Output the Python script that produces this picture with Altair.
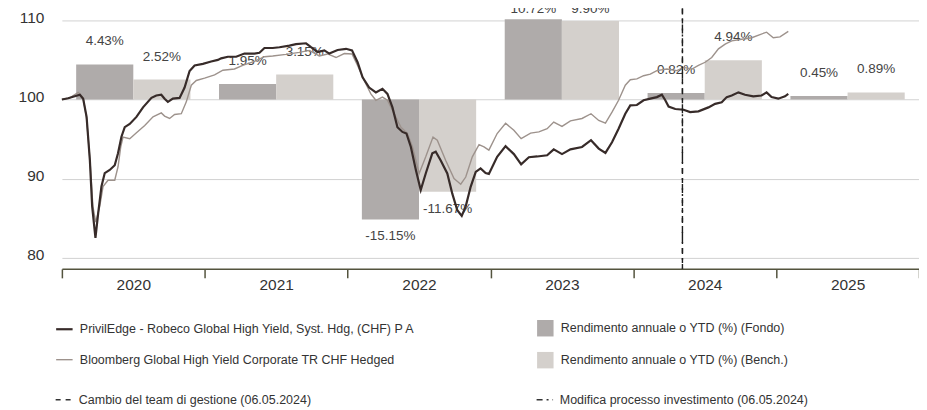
import altair as alt
import pandas as pd

# ---------------- data ----------------
anni = [2020, 2021, 2022, 2023, 2024, 2025]
rend_fondo = [4.43, 1.95, -15.15, 10.72, 0.82, 0.45]
rend_bench = [2.52, 3.15, -11.67, 9.90, 4.94, 0.89]

fondo_t = [2020.000, 2020.044, 2020.126, 2020.149, 2020.173, 2020.196, 2020.212, 2020.235, 2020.254, 2020.277,
           2020.300, 2020.335, 2020.370, 2020.393, 2020.417, 2020.440, 2020.475, 2020.522, 2020.568, 2020.627,
           2020.661, 2020.696, 2020.719, 2020.742, 2020.777, 2020.824, 2020.859, 2020.894, 2020.929, 2020.987,
           2021.045, 2021.092, 2021.115, 2021.162, 2021.220, 2021.278, 2021.348, 2021.383, 2021.418, 2021.476,
           2021.523, 2021.593, 2021.639, 2021.709, 2021.744, 2021.790, 2021.837, 2021.872, 2021.930, 2021.989,
           2022.031, 2022.070, 2022.105, 2022.151, 2022.198, 2022.244, 2022.279, 2022.314, 2022.349, 2022.384,
           2022.412, 2022.443, 2022.478, 2022.512, 2022.547, 2022.593, 2022.617, 2022.652, 2022.698, 2022.733,
           2022.768, 2022.799, 2022.827, 2022.862, 2022.897, 2022.931, 2022.966, 2022.989, 2023.047, 2023.106,
           2023.164, 2023.215, 2023.269, 2023.327, 2023.397, 2023.443, 2023.501, 2023.560, 2023.641, 2023.704,
           2023.758, 2023.805, 2023.851, 2023.897, 2023.944, 2023.979, 2024.025, 2024.072, 2024.119, 2024.165,
           2024.200, 2024.224, 2024.247, 2024.294, 2024.352, 2024.398, 2024.456, 2024.526, 2024.573, 2024.619,
           2024.654, 2024.689, 2024.736, 2024.782, 2024.840, 2024.898, 2024.933, 2024.968, 2025.015, 2025.062,
           2025.085]
fondo_v = [100.0, 100.16, 100.6, 100.1, 97.8, 92.3, 86.5, 82.5, 85.6, 89.0,
           90.7, 91.1, 91.7, 93.2, 95.3, 96.5, 96.9, 97.8, 99.0, 100.2,
           100.5, 100.6, 100.1, 99.7, 100.1, 100.2, 101.5, 103.6, 104.3, 104.5,
           104.8, 105.0, 105.2, 105.4, 105.4, 105.8, 105.8, 105.9, 106.5, 106.5,
           106.6, 106.8, 107.0, 107.1, 106.6, 106.0, 106.2, 105.8, 106.25, 106.4,
           106.2, 104.7, 102.8, 101.5, 100.9, 101.35, 100.7, 99.0, 96.5, 95.9,
           95.7, 94.0, 91.1, 88.55, 90.65, 93.2, 93.4, 92.3, 90.65, 88.1,
           86.0, 85.3, 86.5, 89.0, 90.85, 91.3, 90.7, 90.6, 92.75, 94.1,
           93.1, 91.8, 92.7, 92.8, 92.95, 93.7, 93.1, 93.7, 94.0, 94.85,
           93.8, 93.25, 94.6, 96.3, 98.2, 99.25, 99.3, 99.9, 100.1, 100.3,
           100.6, 99.9, 99.1, 98.8, 98.7, 98.4, 98.5, 99.0, 99.45, 99.65,
           100.3, 100.5, 100.9, 100.6, 100.4, 100.5, 100.9, 100.3, 100.1, 100.4,
           100.7]

bench_t = [2020.000, 2020.056, 2020.114, 2020.149, 2020.173, 2020.196, 2020.217, 2020.237, 2020.265, 2020.288,
           2020.323, 2020.370, 2020.393, 2020.412, 2020.428, 2020.475, 2020.522, 2020.580, 2020.638, 2020.696,
           2020.719, 2020.754, 2020.789, 2020.836, 2020.871, 2020.906, 2020.941, 2020.999, 2021.069, 2021.127,
           2021.208, 2021.266, 2021.348, 2021.418, 2021.476, 2021.569, 2021.662, 2021.732, 2021.802, 2021.860,
           2021.919, 2021.977, 2022.031, 2022.070, 2022.116, 2022.163, 2022.198, 2022.244, 2022.279, 2022.326,
           2022.373, 2022.419, 2022.454, 2022.501, 2022.547, 2022.598, 2022.628, 2022.687, 2022.745, 2022.792,
           2022.827, 2022.873, 2022.920, 2022.955, 2022.989, 2023.047, 2023.106, 2023.164, 2023.215, 2023.281,
           2023.339, 2023.397, 2023.443, 2023.501, 2023.560, 2023.641, 2023.704, 2023.758, 2023.805, 2023.851,
           2023.897, 2023.944, 2023.979, 2024.025, 2024.072, 2024.119, 2024.165, 2024.235, 2024.305, 2024.352,
           2024.410, 2024.456, 2024.503, 2024.549, 2024.596, 2024.643, 2024.689, 2024.759, 2024.829, 2024.887,
           2024.933, 2024.980, 2025.027, 2025.085]
bench_v = [100.0, 100.2, 100.9, 100.2, 97.6, 92.5, 86.5, 84.5, 86.5, 89.0,
           89.8, 89.8, 91.5, 94.0, 95.25, 95.05, 95.8, 96.7, 97.8, 98.3,
           97.9, 97.6, 98.1, 98.2, 99.7, 101.8, 102.4, 102.7, 103.1, 103.7,
           103.85, 104.3, 104.8, 105.4, 105.5, 105.7, 105.95, 106.2, 105.5, 105.75,
           105.3, 105.8, 105.75, 104.3, 102.4, 100.7, 99.9, 100.3, 99.9, 98.2,
           96.5, 95.7, 94.0, 90.65, 92.75, 95.25, 94.85, 92.3, 90.0, 89.3,
           90.2, 92.75, 94.3, 94.0, 93.6, 95.7, 97.0, 96.1, 95.05, 95.75,
           95.9, 96.3, 97.15, 96.6, 97.3, 97.6, 98.2, 97.35, 97.0, 98.4,
           99.9, 101.8, 102.5, 102.6, 103.0, 103.2, 103.65, 103.85, 103.65, 104.05,
           103.85, 104.3, 104.7, 105.3, 106.4, 107.0, 107.4, 107.6, 107.8, 108.2,
           108.5, 107.8, 107.9, 108.6]

NOME_FONDO = "PrivilEdge - Robeco Global High Yield, Syst. Hdg, (CHF) P A"
NOME_BENCH = "Bloomberg Global High Yield Corporate TR CHF Hedged"
BAR_FONDO = "Rendimento annuale o YTD (%) (Fondo)"
BAR_BENCH = "Rendimento annuale o YTD (%) (Bench.)"
eventi = ["Cambio del team di gestione (06.05.2024)", "Modifica processo investimento (06.05.2024)"]
evento_t = [2024.344, 2024.344]  # 06.05.2024 as decimal year

# ---------------- tables ----------------
df_fondo = pd.DataFrame({"t": fondo_t, "v": fondo_v, "serie": NOME_FONDO})
df_bench = pd.DataFrame({"t": bench_t, "v": bench_v, "serie": NOME_BENCH})
df_bars = pd.concat([
    pd.DataFrame({"anno": anni, "r": rend_fondo, "serie": BAR_FONDO, "tipo": "Fondo"}),
    pd.DataFrame({"anno": anni, "r": rend_bench, "serie": BAR_BENCH, "tipo": "Bench"}),
])
df_ev = pd.DataFrame({"t": evento_t, "evento": eventi})

# ---------------- styles ----------------
FONT = "Liberation Sans, Arial, Helvetica, sans-serif"
C_FONDO = "#372b29"
C_BENCH = "#9d928c"
C_BFONDO = "#afabaa"
C_BBENCH = "#d4d0cc"
AXIS_C = "#54543e"
Y_MAX = 111.5
TOP_CLIP = 110.12
LABEL_GAP = 2.9   # label distance above a positive bar, in index points

xscale = alt.Scale(domain=[2020, 2026], nice=False, zero=False)
yscale = alt.Scale(domain=[78.6, Y_MAX], nice=False, zero=False)

xvals = []
for a in anni:
    xvals += [a, a + 0.5]
xvals.append(2026)

xaxis = alt.Axis(
    values=xvals, title=None, grid=False,
    labelExpr="datum.value % 1 == 0.5 ? format(floor(datum.value), 'd') : ''",
    tickOpacity={"condition": {"test": "datum.value % 1 != 0", "value": 0}, "value": 1},
    tickSize=9, tickWidth=1.5, tickColor=AXIS_C, domainColor=AXIS_C, domainWidth=1.5,
    labelFont=FONT, labelFontSize=15.5, labelColor="#333333", labelPadding=0,
    labelOverlap=False, labelFlush=False, labelBound=False,
)
yaxis = alt.Axis(
    values=[80, 90, 100, 110], title=None, grid=True, gridColor="#d2d2d2", gridWidth=1,
    domain=False, ticks=False, tickSize=0, labelPadding=18, labelOffset=-3,
    labelFont=FONT, labelFontSize=15.5, labelColor="#333333",
)

common_leg = dict(title=None, padding=0, symbolSize=272, labelLimit=700,
                  labelFont=FONT, labelFontSize=12.5, labelColor="#333333")

legend_lines = alt.Legend(orient="none", legendX=-7, legendY=312, rowPadding=15, columns=1,
                          symbolType="stroke", labelOffset=6, **common_leg)
legend_bars = alt.Legend(orient="none", legendX=476, legendY=312, rowPadding=15, columns=1,
                         symbolType="square", symbolStrokeWidth=0, labelOffset=7, **common_leg)
legend_ev = alt.Legend(orient="none", legendX=-7, legendY=383, columns=2, columnPadding=222,
                       symbolType="stroke", symbolStrokeColor="#333333", symbolStrokeWidth=1.5,
                       labelOffset=6, **common_leg)

line_color = alt.Scale(domain=[NOME_FONDO, NOME_BENCH], range=[C_FONDO, C_BENCH])
line_width = alt.Scale(domain=[NOME_FONDO, NOME_BENCH], range=[2.2, 1.4])
bar_fill = alt.Scale(domain=[BAR_FONDO, BAR_BENCH], range=[C_BFONDO, C_BBENCH])

# ---------------- layers ----------------
bars_base = alt.Chart(df_bars).transform_calculate(
    x0="datum.anno + (datum.tipo == 'Fondo' ? 0.1 : 0.5)",
    x1="datum.anno + (datum.tipo == 'Fondo' ? 0.5 : 0.9)",
    xm="datum.anno + (datum.tipo == 'Fondo' ? 0.3 : 0.7)",
    top=f"min(100 + datum.r, {TOP_CLIP})",
    ly=f"min(min(100 + datum.r, {TOP_CLIP}) + {LABEL_GAP}, {Y_MAX - 0.1})",
    label="(datum.r < 0 ? '-' : '') + format(abs(datum.r), '.2f') + '%'",
)

bars = bars_base.mark_bar().encode(
    x=alt.X("x0:Q", scale=xscale, axis=xaxis),
    x2="x1:Q",
    y=alt.Y("top:Q", scale=yscale, axis=yaxis),
    y2=alt.datum(100),
    fill=alt.Fill("serie:N", scale=bar_fill, legend=legend_bars),
)

lab_pos = bars_base.transform_filter("datum.r >= 0").mark_text(
    baseline="middle", align="center", font=FONT, fontSize=13.5, color="#444444"
).encode(x=alt.X("xm:Q", scale=xscale, axis=xaxis), y=alt.Y("ly:Q", scale=yscale, axis=yaxis), text="label:N")

lab_neg = bars_base.transform_filter("datum.r < 0").mark_text(
    dy=17, baseline="middle", align="center", font=FONT, fontSize=13.5, color="#444444"
).encode(x=alt.X("xm:Q", scale=xscale, axis=xaxis), y=alt.Y("top:Q", scale=yscale, axis=yaxis), text="label:N")


def line_layer(df):
    return alt.Chart(df).mark_line().encode(
        x=alt.X("t:Q", scale=xscale, axis=xaxis),
        y=alt.Y("v:Q", scale=yscale, axis=yaxis),
        color=alt.Color("serie:N", scale=line_color, legend=legend_lines),
        strokeWidth=alt.StrokeWidth("serie:N", scale=line_width, legend=legend_lines),
    )


line_bench = line_layer(df_bench)
line_fondo = line_layer(df_fondo)

rules = alt.Chart(df_ev).mark_rule(color="#1e1e1e", strokeWidth=1.4).encode(
    x=alt.X("t:Q", scale=xscale, axis=xaxis),
    strokeDash=alt.StrokeDash("evento:N", scale=alt.Scale(domain=eventi, range=[[5, 5], [6, 4, 2, 4]]),
                              legend=legend_ev),
)

chart = alt.layer(bars, lab_pos, lab_neg, line_bench, line_fondo, rules).properties(
    width=859, height=261,
    padding={"left": 54, "top": 0, "right": 0, "bottom": 141},
    autosize=alt.AutoSizeParams(type="none"),
    background="white",
).configure_view(stroke=None)

chart.save("out.html", embed_options={"renderer": "svg", "actions": False})
